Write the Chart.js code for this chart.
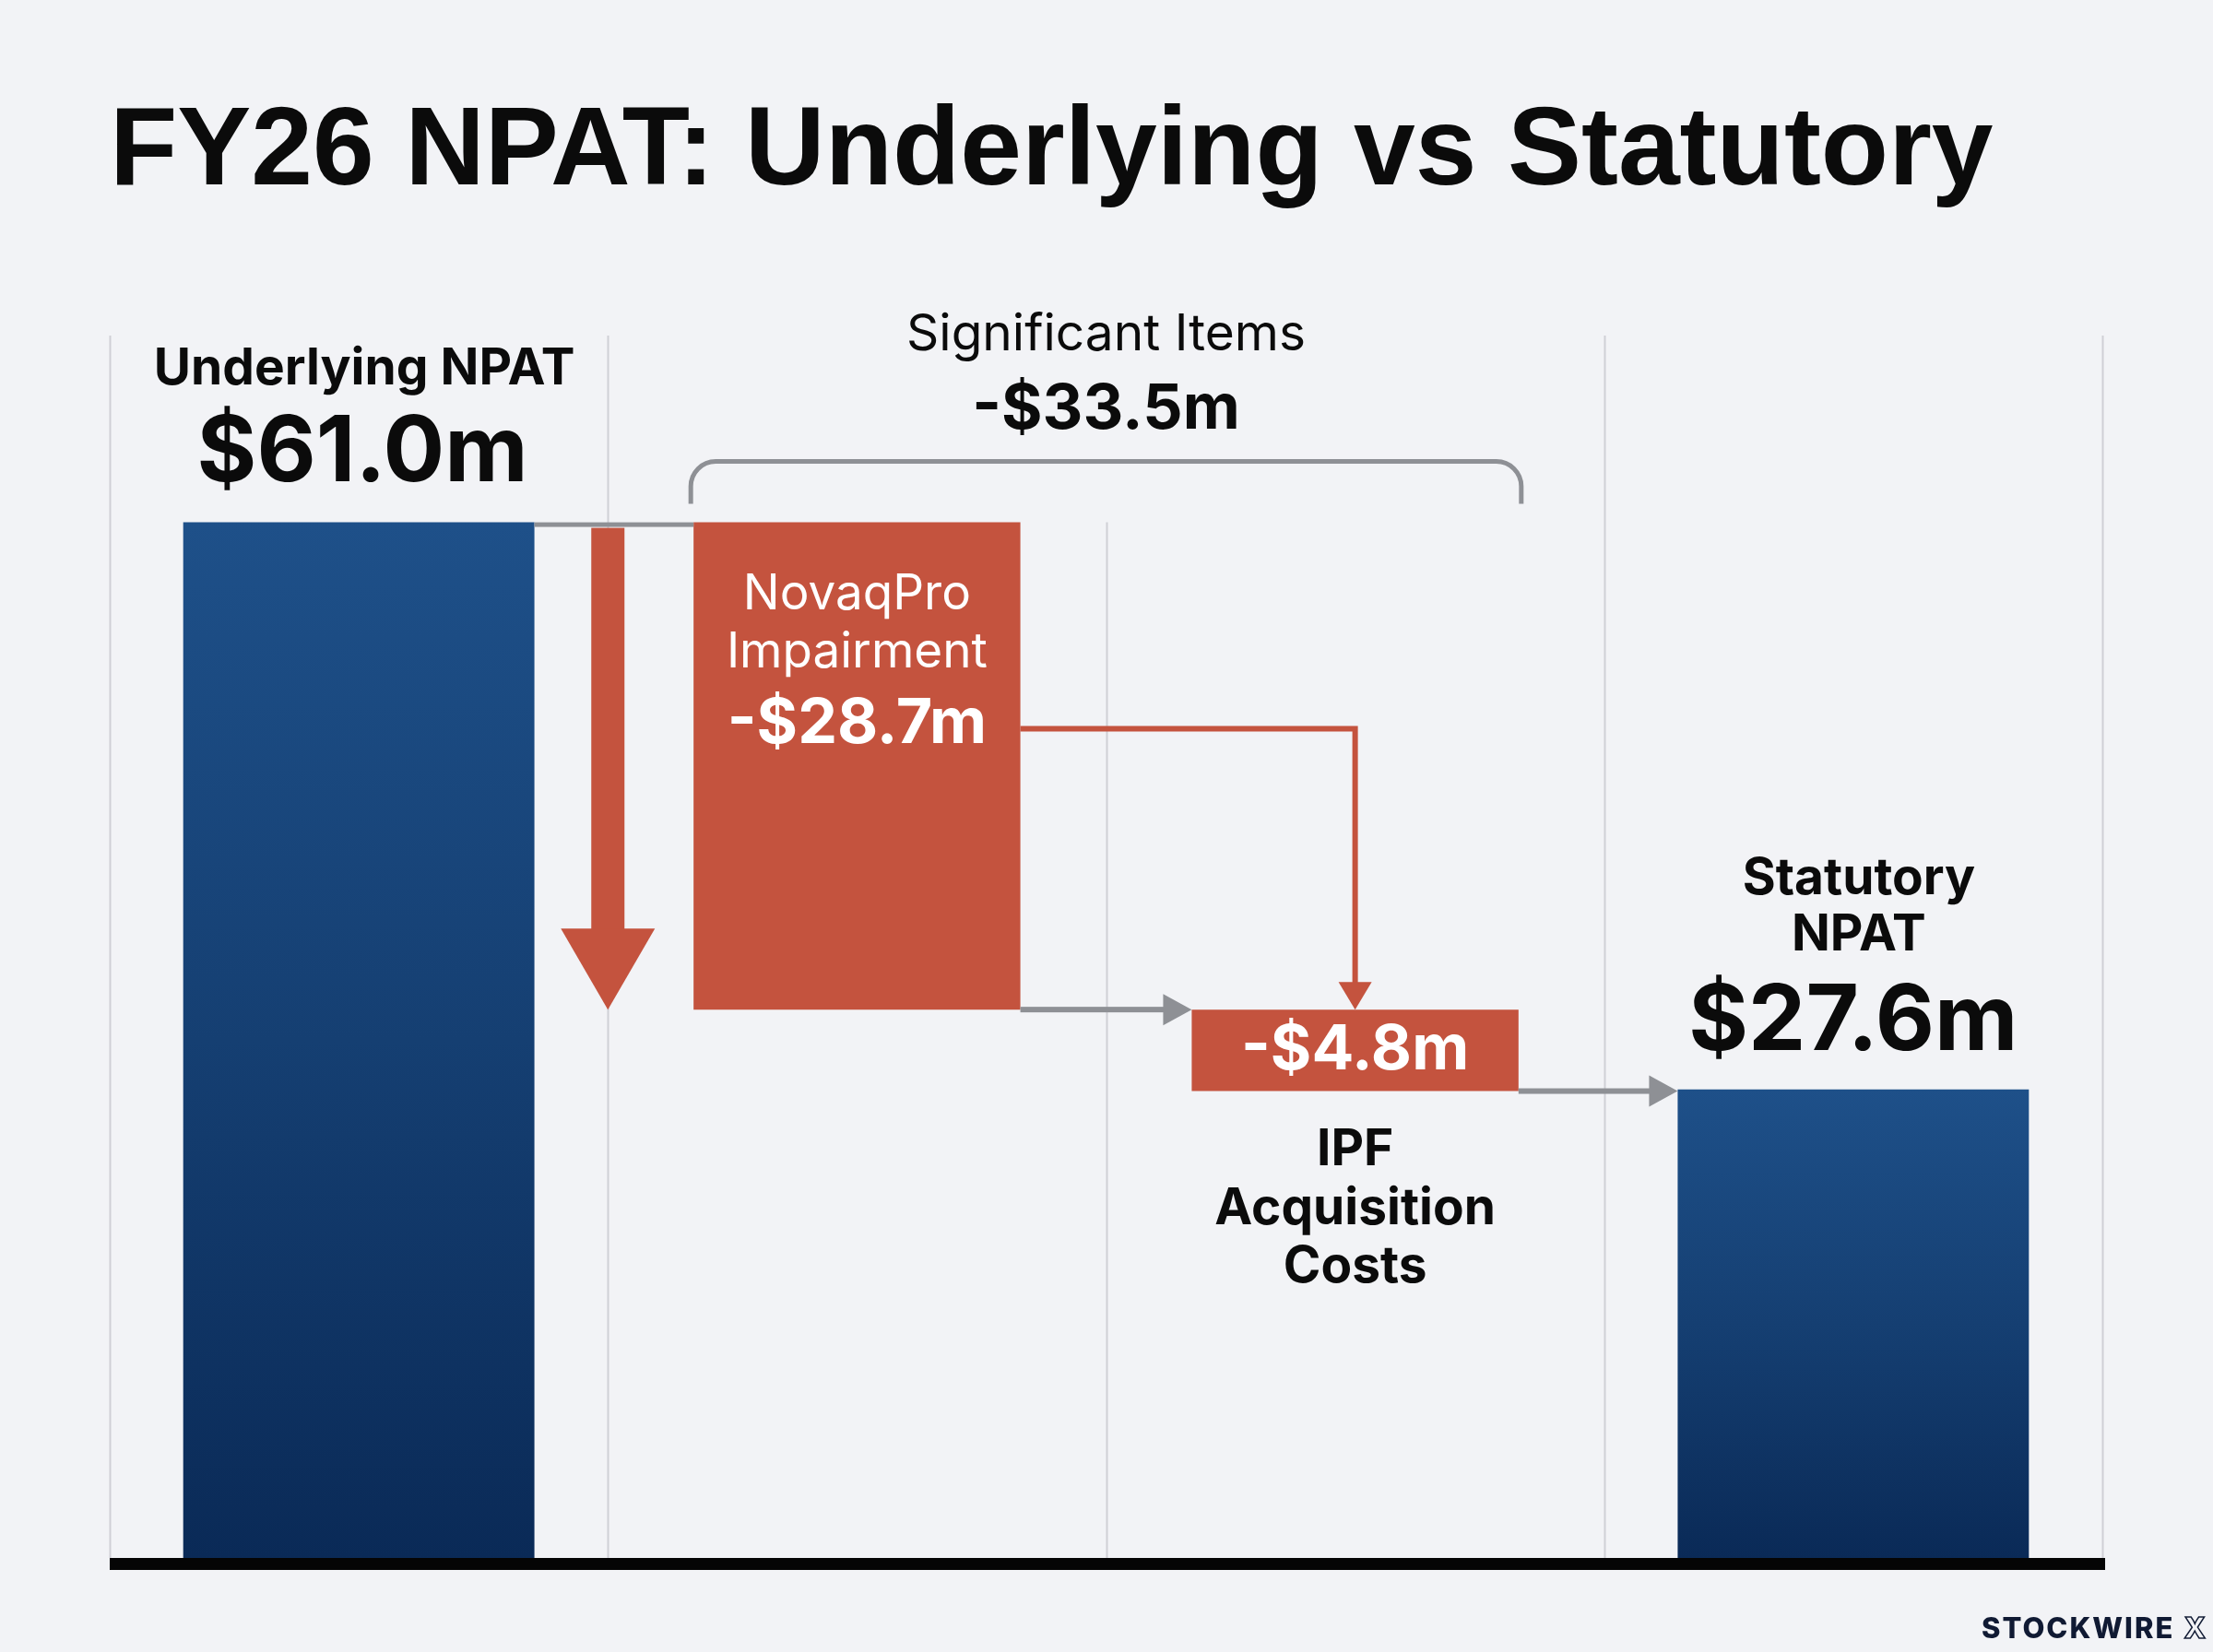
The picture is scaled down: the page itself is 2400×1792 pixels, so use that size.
<!DOCTYPE html>
<html>
<head>
<meta charset="utf-8">
<script src="https://cdn.jsdelivr.net/npm/chart.js@4.4.1/dist/chart.umd.min.js"></script>
<style>
  html, body { margin: 0; padding: 0; background: #f2f3f6; }
  #wrap { width: 2400px; height: 1792px; }
  canvas { display: block; }
</style>
</head>
<body>
<div id="wrap"><canvas id="c" width="2400" height="1792"></canvas></div>
<script>
// ---------------- DATA ----------------
const chartTitle = 'FY26 NPAT: Underlying vs Statutory';
const categories = ['Underlying NPAT', 'NovaqPro Impairment', 'IPF Acquisition Costs', 'Statutory NPAT'];
const categoryLines = [['Underlying NPAT'], ['NovaqPro', 'Impairment'], ['IPF', 'Acquisition', 'Costs'], ['Statutory', 'NPAT']];
const totalValues = [61.0, null, null, 27.6];      // $m, blue total bars
const stepChanges = [null, -28.7, -4.8, null];      // $m, red significant items
const groupLabel = 'Significant Items';
const yMax = 72;

// floating ranges for the step bars, built from the data
const stepRanges = [];
let running = totalValues[0];
stepChanges.forEach((s, i) => {
  if (s == null) { stepRanges.push(null); return; }
  const next = running + s;
  stepRanges.push([next, running]);
  running = next;
});
const significantTotal = stepChanges.reduce((a, b) => a + (b || 0), 0);
const fmt = v => (v < 0 ? '-' : '') + '$' + Math.abs(v).toFixed(1) + 'm';

// ---------------- STYLE ----------------
const BG = '#f2f3f6';
const RED = '#c4533e';
const GRAY = '#8e9095';
const GRID = '#cfd0d5';
const INK = '#0b0b0b';
const SANS = 'Inter, "Liberation Sans", Arial, sans-serif';

function blueGradient(ctx) {
  const chart = ctx.chart;
  const v = ctx.raw;
  if (!chart.chartArea || v == null) return '#173f70';
  const y = chart.scales.y;
  const g = chart.ctx.createLinearGradient(0, y.getPixelForValue(v), 0, y.getPixelForValue(0));
  g.addColorStop(0, '#1e5089');
  g.addColorStop(0.5, '#153f72');
  g.addColorStop(1, '#0a2a57');
  return g;
}

function barBox(chart, ds, i) {
  const el = chart.getDatasetMeta(ds).data[i];
  const p = el.getProps(['x', 'y', 'base', 'width'], true);
  return {
    x: p.x, left: p.x - p.width / 2, right: p.x + p.width / 2,
    top: Math.min(p.y, p.base), bottom: Math.max(p.y, p.base)
  };
}

function label(ctx, str, x, y, size, weight, color) {
  ctx.font = weight + ' ' + size + 'px ' + SANS;
  ctx.fillStyle = color;
  ctx.textAlign = 'center';
  ctx.textBaseline = 'middle';
  ctx.fillText(str, x, y);
}

const bgPlugin = {
  id: 'bg',
  beforeDraw(chart) {
    const c = chart.ctx;
    c.save(); c.fillStyle = BG; c.fillRect(0, 0, chart.width, chart.height); c.restore();
  }
};

function boundaries(chart) {
  const xs = chart.scales.x, a = chart.chartArea, n = categories.length;
  const b = [];
  for (let i = 0; i <= n; i++) {
    if (i === 0) b.push(a.left);
    else if (i === n) b.push(a.right);
    else b.push((xs.getPixelForValue(i - 1) + xs.getPixelForValue(i)) / 2);
  }
  return b;
}

const gridPlugin = {
  id: 'gridLines',
  beforeDatasetsDraw(chart) {
    const c = chart.ctx, a = chart.chartArea, ys = chart.scales.y;
    const b = boundaries(chart);
    c.save();
    c.strokeStyle = GRID; c.lineWidth = 2;
    b.forEach((x, i) => {
      const top = (i === 2) ? ys.getPixelForValue(totalValues[0]) : a.top;
      c.beginPath(); c.moveTo(Math.round(x) + 0.5, top); c.lineTo(Math.round(x) + 0.5, a.bottom); c.stroke();
    });
    c.restore();
  }
};

function arrowRight(c, x1, x2, y, color) {
  c.fillStyle = color;
  c.fillRect(x1, y - 3, x2 - 30 - x1, 6);
  c.beginPath(); c.moveTo(x2 - 31, y - 17); c.lineTo(x2, y); c.lineTo(x2 - 31, y + 17); c.closePath(); c.fill();
}

const annotPlugin = {
  id: 'annot',
  afterDatasetsDraw(chart) {
    const c = chart.ctx, a = chart.chartArea, ys = chart.scales.y;
    const b = boundaries(chart);
    const blue1 = barBox(chart, 0, 0), blue2 = barBox(chart, 0, 3);
    const red1 = barBox(chart, 1, 1), red2 = barBox(chart, 1, 2);
    c.save();

    // gray connector from first total to first step
    c.fillStyle = GRAY;
    c.fillRect(blue1.right, blue1.top, red1.left - blue1.right, 5);

    // big red down arrow on the boundary
    const ax = b[1];
    const tip = red1.bottom;
    const headH = 88;
    c.fillStyle = RED;
    c.fillRect(ax - 18, blue1.top + 6, 36, tip - headH - blue1.top - 6 + 1);
    c.beginPath(); c.moveTo(ax - 51, tip - headH); c.lineTo(ax + 51, tip - headH); c.lineTo(ax, tip); c.closePath(); c.fill();

    // red elbow connector from step 1 to step 2
    const ey = red1.top + 224;
    c.strokeStyle = RED; c.lineWidth = 6; c.lineJoin = 'miter';
    c.beginPath(); c.moveTo(red1.right, ey); c.lineTo(red2.x, ey); c.lineTo(red2.x, red2.top - 28); c.stroke();
    c.beginPath(); c.moveTo(red2.x - 18, red2.top - 30); c.lineTo(red2.x + 18, red2.top - 30); c.lineTo(red2.x, red2.top); c.closePath(); c.fill();

    // gray flow arrows
    arrowRight(c, red1.right, red2.left, red1.bottom, GRAY);
    arrowRight(c, red2.right, blue2.left, red2.bottom, GRAY);

    // bracket over significant items
    const by = red1.top - 66, bEnd = red1.top - 20, r = 27;
    const bl = red1.left - 3, br = red2.right + 3;
    c.strokeStyle = GRAY; c.lineWidth = 5; c.lineCap = 'butt';
    c.beginPath();
    c.moveTo(bl, bEnd); c.lineTo(bl, by + r);
    c.arcTo(bl, by, bl + r, by, r);
    c.lineTo(br - r, by);
    c.arcTo(br, by, br, by + r, r);
    c.lineTo(br, bEnd);
    c.stroke();

    // black baseline
    c.fillStyle = '#050505';
    c.fillRect(a.left, ys.getPixelForValue(0), a.right + 3 - a.left, 13);

    // ---- labels ----
    // Underlying
    label(c, categoryLines[0][0], blue1.x + 6, blue1.top - 166, 55, 'bold', INK);
    label(c, fmt(totalValues[0]), blue1.x + 4, blue1.top - 74, 99, 'bold', INK);
    // group label
    const gx = (red1.left + red2.right) / 2;
    label(c, groupLabel, gx, red1.top - 203, 55, 'normal', INK);
    label(c, fmt(significantTotal), gx, red1.top - 122, 68, 'bold', INK);
    // step 1 inside bar
    label(c, categoryLines[1][0], red1.x, red1.top + 78, 53, 'normal', '#ffffff');
    label(c, categoryLines[1][1], red1.x, red1.top + 141, 53, 'normal', '#ffffff');
    label(c, fmt(stepChanges[1]), red1.x, red1.top + 219, 68, 'bold', '#ffffff');
    // step 2
    label(c, fmt(stepChanges[2]), red2.x, (red2.top + red2.bottom) / 2, 68, 'bold', '#ffffff');
    categoryLines[2].forEach((t, k) => label(c, t, red2.x, red2.bottom + 64 + k * 63.5, 55, 'bold', INK));
    // statutory
    label(c, categoryLines[3][0], blue2.x + 6, blue2.top - 228, 55, 'bold', INK);
    label(c, categoryLines[3][1], blue2.x + 6, blue2.top - 167, 55, 'bold', INK);
    label(c, fmt(totalValues[3]), blue2.x, blue2.top - 72, 99, 'bold', INK);

    c.restore();
  },
  afterDraw(chart) {
    // brand mark bottom-right
    const c = chart.ctx;
    c.save();
    c.textBaseline = 'middle'; c.textAlign = 'right';
    c.font = '800 31px ' + SANS;
    c.lineWidth = 1.5; c.strokeStyle = '#101a33';
    c.strokeText('X', 2392, 1768);
    const xw = c.measureText('X').width;
    c.fillStyle = '#101a33';
    if ('letterSpacing' in c) c.letterSpacing = '2px';
    c.fillText('STOCKWIRE', 2392 - xw - 10, 1768);
    c.restore();
  }
};

new Chart(document.getElementById('c'), {
  type: 'bar',
  data: {
    labels: categories,
    datasets: [
      {
        label: 'NPAT',
        data: totalValues,
        backgroundColor: blueGradient,
        borderWidth: 0,
        barPercentage: 0.705,
        categoryPercentage: 1.0,
        grouped: false,
        skipNull: true
      },
      {
        label: 'Significant items',
        data: stepRanges,
        backgroundColor: RED,
        borderWidth: 0,
        barPercentage: 0.656,
        categoryPercentage: 1.0,
        grouped: false,
        skipNull: true
      }
    ]
  },
  options: {
    responsive: false,
    animation: false,
    devicePixelRatio: 1,
    layout: { padding: { left: 119, right: 120, top: 0, bottom: 102 } },
    scales: {
      x: { display: false },
      y: { display: false, min: 0, max: yMax }
    },
    plugins: {
      legend: { display: false },
      tooltip: { enabled: false },
      title: {
        display: true,
        text: chartTitle,
        align: 'start',
        color: INK,
        font: { family: '"Liberation Sans", Arial, sans-serif', size: 120, weight: 'bold' },
        padding: { top: 95, bottom: 125 }
      }
    }
  },
  plugins: [bgPlugin, gridPlugin, annotPlugin]
});
</script>
</body>
</html>
